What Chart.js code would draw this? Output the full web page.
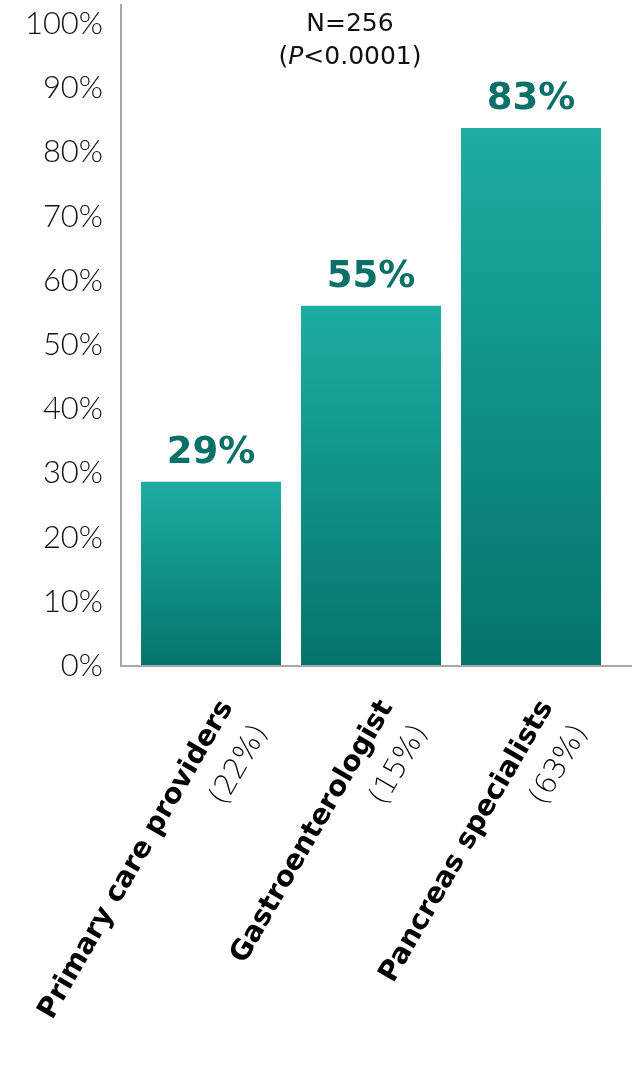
<!DOCTYPE html>
<html>
<head>
<meta charset="utf-8">
<script src="https://cdn.jsdelivr.net/npm/chart.js@4/dist/chart.umd.min.js"></script>
<style>
  html, body { margin: 0; padding: 0; background: #fff; }
  #wrap { width: 632px; height: 1091px; position: relative; }
</style>
</head>
<body>
<div id="wrap"><canvas id="chart"></canvas></div>
<script>
const categories  = ['Primary care providers', 'Gastroenterologist', 'Pancreas specialists'];
const shares      = ['(22%)', '(15%)', '(63%)'];
const values      = [28.7, 56.1, 83.8];
const valueLabels = ['29%', '55%', '83%'];
const noteLines   = ['N=256', '(P<0.0001)'];

const TEAL_TOP = '#1dada3', TEAL_BOTTOM = '#04746b', LABEL_TEAL = '#0a7068', AXIS_GREY = '#a8a8a8';

// bars get their own top-to-bottom gradient
function barFill(ctx) {
  const { chart, dataIndex } = ctx;
  if (!chart.chartArea || !chart.scales.y) return TEAL_TOP;
  const y = chart.scales.y;
  const g = chart.ctx.createLinearGradient(0, y.getPixelForValue(values[dataIndex]), 0, y.getPixelForValue(0));
  g.addColorStop(0, TEAL_TOP);
  g.addColorStop(1, TEAL_BOTTOM);
  return g;
}

const extras = {
  id: 'extras',
  afterDraw(chart) {
    const c = chart.ctx, area = chart.chartArea, x = chart.scales.x, y = chart.scales.y;
    const axisX = area.left - 10, zeroY = y.getPixelForValue(0);
    c.save();

    // axis lines
    c.strokeStyle = AXIS_GREY; c.lineWidth = 2;
    c.beginPath();
    c.moveTo(axisX, area.top); c.lineTo(axisX, zeroY); c.lineTo(chart.width, zeroY);
    c.stroke();

    // value labels above bars
    c.fillStyle = LABEL_TEAL; c.font = 'bold 37px "DejaVu Sans"';
    c.textAlign = 'center'; c.textBaseline = 'alphabetic';
    chart.getDatasetMeta(0).data.forEach((bar, i) => c.fillText(valueLabels[i], bar.x, bar.y - 19));

    // N / P note
    c.fillStyle = '#111'; c.textBaseline = 'middle';
    c.font = '25px "DejaVu Sans"';
    c.fillText(noteLines[0], 350, 24);
    const parts = [['(', '25px "DejaVu Sans"'], ['P', 'italic 25px "DejaVu Sans"'], ['<0.0001)', '25px "DejaVu Sans"']];
    const widths = parts.map(([t, f]) => { c.font = f; return c.measureText(t).width; });
    let px = 350 - widths.reduce((s, w) => s + w, 0) / 2;
    c.textAlign = 'left';
    parts.forEach(([t, f], i) => { c.font = f; c.fillText(t, px, 57); px += widths[i]; });

    // rotated category labels, two lines
    c.fillStyle = '#000'; c.textAlign = 'right'; c.textBaseline = 'middle';
    categories.forEach((cat, i) => {
      c.save();
      c.translate(x.getPixelForValue(i) + 16, zeroY + 37);
      c.rotate(-Math.PI / 3);
      c.font = 'bold 28px "DejaVu Sans"';
      c.fillText(cat, 0, 0);
      c.font = '200 29px "DejaVu Sans"';
      c.fillText(shares[i], -4, 42);
      c.restore();
    });
    c.restore();
  }
};

new Chart(document.getElementById('chart'), {
  type: 'bar',
  data: {
    labels: categories,
    datasets: [{ data: values, backgroundColor: barFill, borderWidth: 0, barPercentage: 0.875, categoryPercentage: 1 }]
  },
  options: {
    responsive: true, maintainAspectRatio: false, animation: false,
    layout: { padding: { top: 4, right: 21, left: 0, bottom: 0 } },
    plugins: { legend: { display: false }, tooltip: { enabled: false } },
    scales: {
      x: {
        grid: { display: false, drawTicks: false }, border: { display: false },
        ticks: { display: false },
        afterFit: s => { s.height = 425; s.paddingLeft = 0; s.paddingRight = 0; }
      },
      y: {
        min: 0, max: 103.1,
        grid: { display: false, drawTicks: false }, border: { display: false },
        ticks: { stepSize: 10, includeBounds: false, padding: 28, color: '#111',
                 font: { family: 'Lato', size: 31, weight: 300 }, callback: v => v + '%' },
        afterFit: s => { s.width = 131; s.paddingTop = 0; s.paddingBottom = 0; }
      }
    }
  },
  plugins: [extras]
});
</script>
</body>
</html>
